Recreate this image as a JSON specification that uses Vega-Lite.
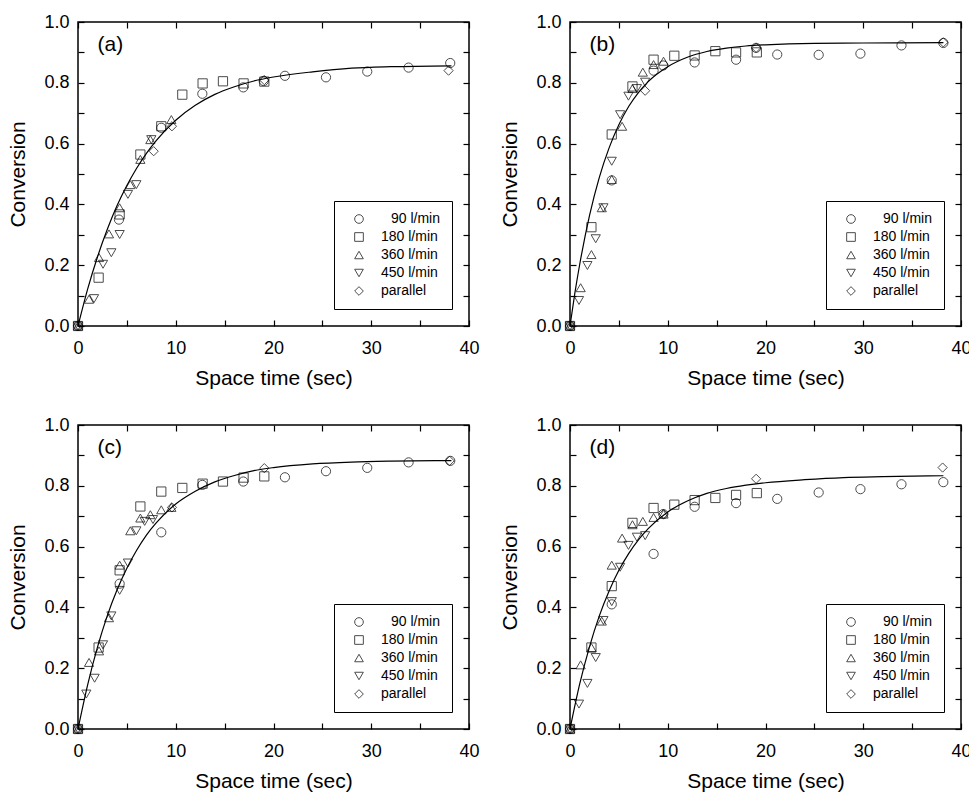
{
  "$schema": "https://vega.github.io/schema/vega-lite/v6.json",
  "padding": {"left": 7, "top": 12, "right": 0, "bottom": 0},
  "background": "white",
  "config": {
    "font": "Liberation Sans",
    "view": {"stroke": "black", "strokeWidth": 1.5},
    "axis": {"grid": false, "domain": false, "tickColor": "black", "tickWidth": 1.2, "labelColor": "black", "titleColor": "black", "labelFontSize": 18, "titleFontSize": 21, "titleFontWeight": "normal", "labelFont": "Liberation Sans", "titleFont": "Liberation Sans", "labelFlush": false, "labelOverlap": false},
    "legend": {"strokeColor": "black", "padding": 11, "symbolOffset": 7, "labelOffset": 15, "rowPadding": 4, "labelFontSize": 14, "labelColor": "black", "labelFont": "Liberation Sans", "symbolSize": 75, "symbolStrokeColor": "black", "symbolStrokeWidth": 1, "symbolFillColor": "transparent"},
    "text": {"font": "Liberation Sans", "fontSize": 21, "color": "black"}
  },
  "datasets": {
    "pts": [
      {"p":"a","s":"90 l/min","t":0,"c":0},{"p":"a","s":"90 l/min","t":4.19,"c":0.350},{"p":"a","s":"90 l/min","t":8.52,"c":0.652},{"p":"a","s":"90 l/min","t":12.72,"c":0.764},{"p":"a","s":"90 l/min","t":16.91,"c":0.785},{"p":"a","s":"90 l/min","t":19.0,"c":0.806},{"p":"a","s":"90 l/min","t":21.17,"c":0.823},{"p":"a","s":"90 l/min","t":25.37,"c":0.818},{"p":"a","s":"90 l/min","t":29.59,"c":0.837},{"p":"a","s":"90 l/min","t":33.82,"c":0.850},{"p":"a","s":"90 l/min","t":38.08,"c":0.865},
      {"p":"a","s":"180 l/min","t":0,"c":0},{"p":"a","s":"180 l/min","t":2.11,"c":0.159},{"p":"a","s":"180 l/min","t":4.26,"c":0.367},{"p":"a","s":"180 l/min","t":6.38,"c":0.564},{"p":"a","s":"180 l/min","t":8.52,"c":0.657},{"p":"a","s":"180 l/min","t":10.67,"c":0.761},{"p":"a","s":"180 l/min","t":12.75,"c":0.798},{"p":"a","s":"180 l/min","t":14.83,"c":0.805},{"p":"a","s":"180 l/min","t":16.94,"c":0.798},{"p":"a","s":"180 l/min","t":19.06,"c":0.804},
      {"p":"a","s":"360 l/min","t":0,"c":0},{"p":"a","s":"360 l/min","t":1.13,"c":0.088},{"p":"a","s":"360 l/min","t":2.15,"c":0.225},{"p":"a","s":"360 l/min","t":3.17,"c":0.303},{"p":"a","s":"360 l/min","t":4.26,"c":0.389},{"p":"a","s":"360 l/min","t":5.35,"c":0.465},{"p":"a","s":"360 l/min","t":6.38,"c":0.548},{"p":"a","s":"360 l/min","t":7.40,"c":0.613},{"p":"a","s":"360 l/min","t":9.55,"c":0.679},
      {"p":"a","s":"450 l/min","t":0,"c":0},{"p":"a","s":"450 l/min","t":1.64,"c":0.090},{"p":"a","s":"450 l/min","t":2.56,"c":0.203},{"p":"a","s":"450 l/min","t":3.41,"c":0.241},{"p":"a","s":"450 l/min","t":4.26,"c":0.301},{"p":"a","s":"450 l/min","t":5.11,"c":0.433},{"p":"a","s":"450 l/min","t":5.97,"c":0.465},{"p":"a","s":"450 l/min","t":7.50,"c":0.613},
      {"p":"a","s":"parallel","t":0,"c":0},{"p":"a","s":"parallel","t":7.74,"c":0.575},{"p":"a","s":"parallel","t":9.61,"c":0.657},{"p":"a","s":"parallel","t":19.06,"c":0.809},{"p":"a","s":"parallel","t":37.91,"c":0.840},

      {"p":"b","s":"90 l/min","t":0,"c":0},{"p":"b","s":"90 l/min","t":4.27,"c":0.479},{"p":"b","s":"90 l/min","t":8.55,"c":0.840},{"p":"b","s":"90 l/min","t":9.54,"c":0.857},{"p":"b","s":"90 l/min","t":12.75,"c":0.867},{"p":"b","s":"90 l/min","t":16.99,"c":0.876},{"p":"b","s":"90 l/min","t":19.04,"c":0.915},{"p":"b","s":"90 l/min","t":21.20,"c":0.893},{"p":"b","s":"90 l/min","t":25.44,"c":0.892},{"p":"b","s":"90 l/min","t":29.71,"c":0.896},{"p":"b","s":"90 l/min","t":33.91,"c":0.923},{"p":"b","s":"90 l/min","t":38.19,"c":0.931},
      {"p":"b","s":"180 l/min","t":0,"c":0},{"p":"b","s":"180 l/min","t":2.19,"c":0.325},{"p":"b","s":"180 l/min","t":4.27,"c":0.630},{"p":"b","s":"180 l/min","t":6.39,"c":0.788},{"p":"b","s":"180 l/min","t":8.55,"c":0.876},{"p":"b","s":"180 l/min","t":10.67,"c":0.889},{"p":"b","s":"180 l/min","t":12.75,"c":0.890},{"p":"b","s":"180 l/min","t":14.87,"c":0.904},{"p":"b","s":"180 l/min","t":16.99,"c":0.900},{"p":"b","s":"180 l/min","t":19.11,"c":0.900},
      {"p":"b","s":"360 l/min","t":0,"c":0},{"p":"b","s":"360 l/min","t":1.09,"c":0.126},{"p":"b","s":"360 l/min","t":2.19,"c":0.235},{"p":"b","s":"360 l/min","t":3.25,"c":0.389},{"p":"b","s":"360 l/min","t":4.27,"c":0.482},{"p":"b","s":"360 l/min","t":5.33,"c":0.657},{"p":"b","s":"360 l/min","t":6.39,"c":0.781},{"p":"b","s":"360 l/min","t":7.45,"c":0.835},{"p":"b","s":"360 l/min","t":8.55,"c":0.860},{"p":"b","s":"360 l/min","t":9.57,"c":0.871},
      {"p":"b","s":"450 l/min","t":0,"c":0},{"p":"b","s":"450 l/min","t":0.92,"c":0.084},{"p":"b","s":"450 l/min","t":1.78,"c":0.199},{"p":"b","s":"450 l/min","t":2.63,"c":0.287},{"p":"b","s":"450 l/min","t":3.42,"c":0.389},{"p":"b","s":"450 l/min","t":4.27,"c":0.542},{"p":"b","s":"450 l/min","t":5.13,"c":0.695},{"p":"b","s":"450 l/min","t":5.98,"c":0.756},{"p":"b","s":"450 l/min","t":6.84,"c":0.781},{"p":"b","s":"450 l/min","t":7.69,"c":0.802},
      {"p":"b","s":"parallel","t":0,"c":0},{"p":"b","s":"parallel","t":7.69,"c":0.774},{"p":"b","s":"parallel","t":19.04,"c":0.915},{"p":"b","s":"parallel","t":38.19,"c":0.933},

      {"p":"c","s":"90 l/min","t":0,"c":0},{"p":"c","s":"90 l/min","t":4.26,"c":0.478},{"p":"c","s":"90 l/min","t":8.52,"c":0.647},{"p":"c","s":"90 l/min","t":12.72,"c":0.803},{"p":"c","s":"90 l/min","t":16.91,"c":0.814},{"p":"c","s":"90 l/min","t":21.17,"c":0.828},{"p":"c","s":"90 l/min","t":25.37,"c":0.848},{"p":"c","s":"90 l/min","t":29.59,"c":0.859},{"p":"c","s":"90 l/min","t":33.82,"c":0.877},{"p":"c","s":"90 l/min","t":38.08,"c":0.882},
      {"p":"c","s":"180 l/min","t":0,"c":0},{"p":"c","s":"180 l/min","t":2.11,"c":0.268},{"p":"c","s":"180 l/min","t":4.26,"c":0.522},{"p":"c","s":"180 l/min","t":6.38,"c":0.732},{"p":"c","s":"180 l/min","t":8.52,"c":0.781},{"p":"c","s":"180 l/min","t":10.67,"c":0.793},{"p":"c","s":"180 l/min","t":12.75,"c":0.807},{"p":"c","s":"180 l/min","t":14.83,"c":0.814},{"p":"c","s":"180 l/min","t":16.94,"c":0.827},{"p":"c","s":"180 l/min","t":19.06,"c":0.831},
      {"p":"c","s":"360 l/min","t":0,"c":0},{"p":"c","s":"360 l/min","t":1.13,"c":0.219},{"p":"c","s":"360 l/min","t":2.15,"c":0.257},{"p":"c","s":"360 l/min","t":3.17,"c":0.366},{"p":"c","s":"360 l/min","t":4.26,"c":0.539},{"p":"c","s":"360 l/min","t":5.35,"c":0.652},{"p":"c","s":"360 l/min","t":6.38,"c":0.694},{"p":"c","s":"360 l/min","t":7.40,"c":0.705},{"p":"c","s":"360 l/min","t":8.52,"c":0.721},{"p":"c","s":"360 l/min","t":9.55,"c":0.729},
      {"p":"c","s":"450 l/min","t":0,"c":0},{"p":"c","s":"450 l/min","t":0.85,"c":0.115},{"p":"c","s":"450 l/min","t":1.70,"c":0.167},{"p":"c","s":"450 l/min","t":2.56,"c":0.277},{"p":"c","s":"450 l/min","t":3.41,"c":0.372},{"p":"c","s":"450 l/min","t":4.26,"c":0.456},{"p":"c","s":"450 l/min","t":5.11,"c":0.546},{"p":"c","s":"450 l/min","t":5.97,"c":0.652},{"p":"c","s":"450 l/min","t":6.82,"c":0.683},{"p":"c","s":"450 l/min","t":7.67,"c":0.689},
      {"p":"c","s":"parallel","t":0,"c":0},{"p":"c","s":"parallel","t":9.61,"c":0.729},{"p":"c","s":"parallel","t":19.06,"c":0.858},{"p":"c","s":"parallel","t":38.02,"c":0.882},

      {"p":"d","s":"90 l/min","t":0,"c":0},{"p":"d","s":"90 l/min","t":4.27,"c":0.410},{"p":"d","s":"90 l/min","t":8.55,"c":0.576},{"p":"d","s":"90 l/min","t":9.54,"c":0.707},{"p":"d","s":"90 l/min","t":12.75,"c":0.731},{"p":"d","s":"90 l/min","t":16.99,"c":0.743},{"p":"d","s":"90 l/min","t":21.20,"c":0.757},{"p":"d","s":"90 l/min","t":25.44,"c":0.778},{"p":"d","s":"90 l/min","t":29.71,"c":0.789},{"p":"d","s":"90 l/min","t":33.91,"c":0.805},{"p":"d","s":"90 l/min","t":38.19,"c":0.812},
      {"p":"d","s":"180 l/min","t":0,"c":0},{"p":"d","s":"180 l/min","t":2.19,"c":0.268},{"p":"d","s":"180 l/min","t":4.27,"c":0.470},{"p":"d","s":"180 l/min","t":6.39,"c":0.678},{"p":"d","s":"180 l/min","t":8.55,"c":0.727},{"p":"d","s":"180 l/min","t":10.67,"c":0.738},{"p":"d","s":"180 l/min","t":12.75,"c":0.753},{"p":"d","s":"180 l/min","t":14.87,"c":0.760},{"p":"d","s":"180 l/min","t":16.99,"c":0.770},{"p":"d","s":"180 l/min","t":19.11,"c":0.776},
      {"p":"d","s":"360 l/min","t":0,"c":0},{"p":"d","s":"360 l/min","t":1.09,"c":0.211},{"p":"d","s":"360 l/min","t":2.19,"c":0.268},{"p":"d","s":"360 l/min","t":3.25,"c":0.355},{"p":"d","s":"360 l/min","t":4.27,"c":0.539},{"p":"d","s":"360 l/min","t":5.33,"c":0.628},{"p":"d","s":"360 l/min","t":6.39,"c":0.672},{"p":"d","s":"360 l/min","t":7.45,"c":0.683},{"p":"d","s":"360 l/min","t":8.55,"c":0.696},{"p":"d","s":"360 l/min","t":9.57,"c":0.707},
      {"p":"d","s":"450 l/min","t":0,"c":0},{"p":"d","s":"450 l/min","t":0.92,"c":0.082},{"p":"d","s":"450 l/min","t":1.78,"c":0.150},{"p":"d","s":"450 l/min","t":2.63,"c":0.235},{"p":"d","s":"450 l/min","t":3.42,"c":0.357},{"p":"d","s":"450 l/min","t":4.27,"c":0.419},{"p":"d","s":"450 l/min","t":5.13,"c":0.532},{"p":"d","s":"450 l/min","t":5.98,"c":0.604},{"p":"d","s":"450 l/min","t":6.84,"c":0.631},{"p":"d","s":"450 l/min","t":7.69,"c":0.636},
      {"p":"d","s":"parallel","t":0,"c":0},{"p":"d","s":"parallel","t":9.57,"c":0.707},{"p":"d","s":"parallel","t":19.04,"c":0.823},{"p":"d","s":"parallel","t":38.12,"c":0.860}
    ],
    "fit": [
      {"p":"a","t":0,"c":0},{"p":"a","t":1,"c":0.123},{"p":"a","t":2,"c":0.228},{"p":"a","t":3,"c":0.318},{"p":"a","t":4,"c":0.396},{"p":"a","t":5,"c":0.462},{"p":"a","t":6,"c":0.519},{"p":"a","t":7,"c":0.568},{"p":"a","t":8,"c":0.610},{"p":"a","t":10,"c":0.677},{"p":"a","t":12,"c":0.726},{"p":"a","t":14,"c":0.762},{"p":"a","t":16,"c":0.787},{"p":"a","t":18,"c":0.806},{"p":"a","t":20,"c":0.819},{"p":"a","t":24,"c":0.836},{"p":"a","t":28,"c":0.848},{"p":"a","t":32,"c":0.853},{"p":"a","t":38.2,"c":0.856},
      {"p":"b","t":0,"c":0},{"p":"b","t":0.5,"c":0.109},{"p":"b","t":1,"c":0.204},{"p":"b","t":2,"c":0.364},{"p":"b","t":3,"c":0.489},{"p":"b","t":4,"c":0.586},{"p":"b","t":5,"c":0.662},{"p":"b","t":6,"c":0.722},{"p":"b","t":7,"c":0.768},{"p":"b","t":8,"c":0.804},{"p":"b","t":10,"c":0.853},{"p":"b","t":12,"c":0.884},{"p":"b","t":14,"c":0.903},{"p":"b","t":16,"c":0.914},{"p":"b","t":18,"c":0.921},{"p":"b","t":20,"c":0.925},{"p":"b","t":25,"c":0.930},{"p":"b","t":30,"c":0.931},{"p":"b","t":38.2,"c":0.932},
      {"p":"c","t":0,"c":0},{"p":"c","t":1,"c":0.147},{"p":"c","t":2,"c":0.270},{"p":"c","t":3,"c":0.373},{"p":"c","t":4,"c":0.458},{"p":"c","t":5,"c":0.529},{"p":"c","t":6,"c":0.588},{"p":"c","t":7,"c":0.638},{"p":"c","t":8,"c":0.678},{"p":"c","t":10,"c":0.740},{"p":"c","t":12,"c":0.782},{"p":"c","t":14,"c":0.813},{"p":"c","t":16,"c":0.834},{"p":"c","t":18,"c":0.850},{"p":"c","t":20,"c":0.860},{"p":"c","t":24,"c":0.872},{"p":"c","t":28,"c":0.878},{"p":"c","t":32,"c":0.881},{"p":"c","t":38.2,"c":0.883},
      {"p":"d","t":0,"c":0},{"p":"d","t":1,"c":0.149},{"p":"d","t":2,"c":0.271},{"p":"d","t":3,"c":0.372},{"p":"d","t":4,"c":0.454},{"p":"d","t":5,"c":0.522},{"p":"d","t":6,"c":0.577},{"p":"d","t":7,"c":0.622},{"p":"d","t":8,"c":0.659},{"p":"d","t":10,"c":0.714},{"p":"d","t":12,"c":0.750},{"p":"d","t":14,"c":0.775},{"p":"d","t":16,"c":0.791},{"p":"d","t":18,"c":0.802},{"p":"d","t":20,"c":0.810},{"p":"d","t":24,"c":0.820},{"p":"d","t":28,"c":0.827},{"p":"d","t":32,"c":0.830},{"p":"d","t":38.2,"c":0.833}
    ]
  },
  "columns": 2,
  "spacing": {"row": 26, "column": 19},
  "resolve": {"scale": {"shape": "independent"}, "legend": {"shape": "independent"}},
  "concat": [
    {
      "width": 391, "height": 304,
      "layer": [
        {"data": {"name": "fit"}, "transform": [{"filter": "datum.p === 'a'"}],
         "mark": {"type": "line", "color": "black", "strokeWidth": 1.2, "interpolate": "monotone"},
         "encoding": {
           "x": {"field": "t", "type": "quantitative", "scale": {"domain": [0, 40], "nice": false}, "axis": {"orient": "bottom", "values": [0,5,10,15,20,25,30,35,40], "labelExpr": "datum.value % 10 === 0 ? datum.label : ''", "tickSize": -6, "labelPadding": 19, "title": "Space time (sec)", "titlePadding": 10}},
           "y": {"field": "c", "type": "quantitative", "scale": {"domain": [0, 1], "nice": false}, "axis": {"orient": "left", "values": [0,0.1,0.2,0.3,0.4,0.5,0.6,0.7,0.8,0.9,1.0], "format": ".1f", "labelExpr": "round(datum.value*10) % 2 === 0 ? datum.label : ''", "tickSize": -6, "labelPadding": 15, "title": "Conversion", "titlePadding": 15}}
         }},
        {"data": {"name": "pts"}, "transform": [{"filter": "datum.p === 'a'"}],
         "mark": {"type": "point", "filled": false, "color": "black", "size": 85, "strokeWidth": 1},
         "encoding": {
           "x": {"field": "t", "type": "quantitative", "scale": {"domain": [0, 40], "nice": false}, "axis": {"orient": "top", "values": [0,5,10,15,20,25,30,35,40], "labels": false, "tickSize": -6, "title": null}},
           "y": {"field": "c", "type": "quantitative", "scale": {"domain": [0, 1], "nice": false}, "axis": {"orient": "right", "values": [0,0.1,0.2,0.3,0.4,0.5,0.6,0.7,0.8,0.9,1.0], "labels": false, "tickSize": -6, "title": null}},
           "shape": {"field": "s", "type": "nominal", "scale": {"domain": ["90 l/min", "180 l/min", "360 l/min", "450 l/min", "parallel"], "range": ["circle", "square", "triangle-up", "triangle-down", "diamond"]}, "legend": {"title": null, "orient": "none", "legendX": 256, "legendY": 179, "labelExpr": "datum.label == '90 l/min' ? '\u2800' + datum.label : datum.label"}}
         }},
        {"data": {"values": [{}]}, "mark": {"type": "text", "align": "left", "baseline": "alphabetic"},
         "encoding": {"x": {"datum": 2.0, "type": "quantitative", "axis": null}, "y": {"datum": 0.905, "type": "quantitative", "axis": null}, "text": {"value": "(a)"}}}
      ],
      "resolve": {"axis": {"x": "independent", "y": "independent"}}
    },
    {
      "width": 391, "height": 304,
      "layer": [
        {"data": {"name": "fit"}, "transform": [{"filter": "datum.p === 'b'"}],
         "mark": {"type": "line", "color": "black", "strokeWidth": 1.2, "interpolate": "monotone"},
         "encoding": {
           "x": {"field": "t", "type": "quantitative", "scale": {"domain": [0, 40], "nice": false}, "axis": {"orient": "bottom", "values": [0,5,10,15,20,25,30,35,40], "labelExpr": "datum.value % 10 === 0 ? datum.label : ''", "tickSize": -6, "labelPadding": 19, "title": "Space time (sec)", "titlePadding": 10}},
           "y": {"field": "c", "type": "quantitative", "scale": {"domain": [0, 1], "nice": false}, "axis": {"orient": "left", "values": [0,0.1,0.2,0.3,0.4,0.5,0.6,0.7,0.8,0.9,1.0], "format": ".1f", "labelExpr": "round(datum.value*10) % 2 === 0 ? datum.label : ''", "tickSize": -6, "labelPadding": 15, "title": "Conversion", "titlePadding": 15}}
         }},
        {"data": {"name": "pts"}, "transform": [{"filter": "datum.p === 'b'"}],
         "mark": {"type": "point", "filled": false, "color": "black", "size": 85, "strokeWidth": 1},
         "encoding": {
           "x": {"field": "t", "type": "quantitative", "scale": {"domain": [0, 40], "nice": false}, "axis": {"orient": "top", "values": [0,5,10,15,20,25,30,35,40], "labels": false, "tickSize": -6, "title": null}},
           "y": {"field": "c", "type": "quantitative", "scale": {"domain": [0, 1], "nice": false}, "axis": {"orient": "right", "values": [0,0.1,0.2,0.3,0.4,0.5,0.6,0.7,0.8,0.9,1.0], "labels": false, "tickSize": -6, "title": null}},
           "shape": {"field": "s", "type": "nominal", "scale": {"domain": ["90 l/min", "180 l/min", "360 l/min", "450 l/min", "parallel"], "range": ["circle", "square", "triangle-up", "triangle-down", "diamond"]}, "legend": {"title": null, "orient": "none", "legendX": 256, "legendY": 179, "labelExpr": "datum.label == '90 l/min' ? '\u2800' + datum.label : datum.label"}}
         }},
        {"data": {"values": [{}]}, "mark": {"type": "text", "align": "left", "baseline": "alphabetic"},
         "encoding": {"x": {"datum": 2.0, "type": "quantitative", "axis": null}, "y": {"datum": 0.905, "type": "quantitative", "axis": null}, "text": {"value": "(b)"}}}
      ],
      "resolve": {"axis": {"x": "independent", "y": "independent"}}
    },
    {
      "width": 391, "height": 304,
      "layer": [
        {"data": {"name": "fit"}, "transform": [{"filter": "datum.p === 'c'"}],
         "mark": {"type": "line", "color": "black", "strokeWidth": 1.2, "interpolate": "monotone"},
         "encoding": {
           "x": {"field": "t", "type": "quantitative", "scale": {"domain": [0, 40], "nice": false}, "axis": {"orient": "bottom", "values": [0,5,10,15,20,25,30,35,40], "labelExpr": "datum.value % 10 === 0 ? datum.label : ''", "tickSize": -6, "labelPadding": 19, "title": "Space time (sec)", "titlePadding": 10}},
           "y": {"field": "c", "type": "quantitative", "scale": {"domain": [0, 1], "nice": false}, "axis": {"orient": "left", "values": [0,0.1,0.2,0.3,0.4,0.5,0.6,0.7,0.8,0.9,1.0], "format": ".1f", "labelExpr": "round(datum.value*10) % 2 === 0 ? datum.label : ''", "tickSize": -6, "labelPadding": 15, "title": "Conversion", "titlePadding": 15}}
         }},
        {"data": {"name": "pts"}, "transform": [{"filter": "datum.p === 'c'"}],
         "mark": {"type": "point", "filled": false, "color": "black", "size": 85, "strokeWidth": 1},
         "encoding": {
           "x": {"field": "t", "type": "quantitative", "scale": {"domain": [0, 40], "nice": false}, "axis": {"orient": "top", "values": [0,5,10,15,20,25,30,35,40], "labels": false, "tickSize": -6, "title": null}},
           "y": {"field": "c", "type": "quantitative", "scale": {"domain": [0, 1], "nice": false}, "axis": {"orient": "right", "values": [0,0.1,0.2,0.3,0.4,0.5,0.6,0.7,0.8,0.9,1.0], "labels": false, "tickSize": -6, "title": null}},
           "shape": {"field": "s", "type": "nominal", "scale": {"domain": ["90 l/min", "180 l/min", "360 l/min", "450 l/min", "parallel"], "range": ["circle", "square", "triangle-up", "triangle-down", "diamond"]}, "legend": {"title": null, "orient": "none", "legendX": 256, "legendY": 179, "labelExpr": "datum.label == '90 l/min' ? '\u2800' + datum.label : datum.label"}}
         }},
        {"data": {"values": [{}]}, "mark": {"type": "text", "align": "left", "baseline": "alphabetic"},
         "encoding": {"x": {"datum": 2.0, "type": "quantitative", "axis": null}, "y": {"datum": 0.905, "type": "quantitative", "axis": null}, "text": {"value": "(c)"}}}
      ],
      "resolve": {"axis": {"x": "independent", "y": "independent"}}
    },
    {
      "width": 391, "height": 304,
      "layer": [
        {"data": {"name": "fit"}, "transform": [{"filter": "datum.p === 'd'"}],
         "mark": {"type": "line", "color": "black", "strokeWidth": 1.2, "interpolate": "monotone"},
         "encoding": {
           "x": {"field": "t", "type": "quantitative", "scale": {"domain": [0, 40], "nice": false}, "axis": {"orient": "bottom", "values": [0,5,10,15,20,25,30,35,40], "labelExpr": "datum.value % 10 === 0 ? datum.label : ''", "tickSize": -6, "labelPadding": 19, "title": "Space time (sec)", "titlePadding": 10}},
           "y": {"field": "c", "type": "quantitative", "scale": {"domain": [0, 1], "nice": false}, "axis": {"orient": "left", "values": [0,0.1,0.2,0.3,0.4,0.5,0.6,0.7,0.8,0.9,1.0], "format": ".1f", "labelExpr": "round(datum.value*10) % 2 === 0 ? datum.label : ''", "tickSize": -6, "labelPadding": 15, "title": "Conversion", "titlePadding": 15}}
         }},
        {"data": {"name": "pts"}, "transform": [{"filter": "datum.p === 'd'"}],
         "mark": {"type": "point", "filled": false, "color": "black", "size": 85, "strokeWidth": 1},
         "encoding": {
           "x": {"field": "t", "type": "quantitative", "scale": {"domain": [0, 40], "nice": false}, "axis": {"orient": "top", "values": [0,5,10,15,20,25,30,35,40], "labels": false, "tickSize": -6, "title": null}},
           "y": {"field": "c", "type": "quantitative", "scale": {"domain": [0, 1], "nice": false}, "axis": {"orient": "right", "values": [0,0.1,0.2,0.3,0.4,0.5,0.6,0.7,0.8,0.9,1.0], "labels": false, "tickSize": -6, "title": null}},
           "shape": {"field": "s", "type": "nominal", "scale": {"domain": ["90 l/min", "180 l/min", "360 l/min", "450 l/min", "parallel"], "range": ["circle", "square", "triangle-up", "triangle-down", "diamond"]}, "legend": {"title": null, "orient": "none", "legendX": 256, "legendY": 179, "labelExpr": "datum.label == '90 l/min' ? '\u2800' + datum.label : datum.label"}}
         }},
        {"data": {"values": [{}]}, "mark": {"type": "text", "align": "left", "baseline": "alphabetic"},
         "encoding": {"x": {"datum": 2.0, "type": "quantitative", "axis": null}, "y": {"datum": 0.905, "type": "quantitative", "axis": null}, "text": {"value": "(d)"}}}
      ],
      "resolve": {"axis": {"x": "independent", "y": "independent"}}
    }
  ]
}
